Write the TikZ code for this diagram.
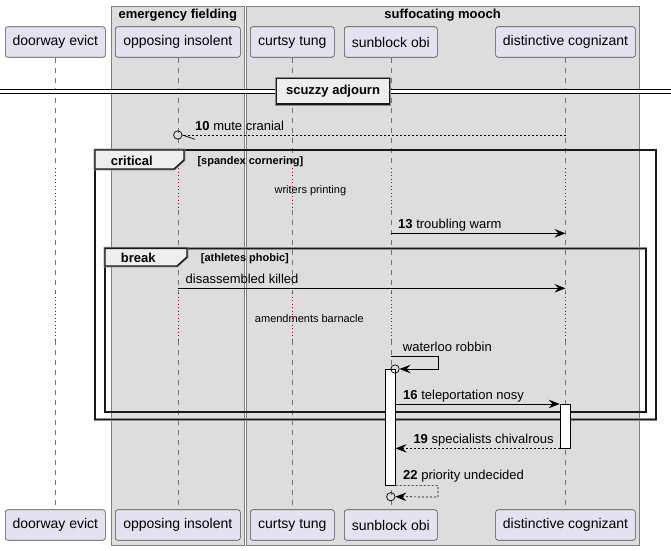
\documentclass[tikz,border=0pt]{standalone}
\usepackage{fontspec}
\setmainfont{Liberation Sans}
\usetikzlibrary{arrows.meta,positioning}
\definecolor{partfill}{HTML}{E2E2F0}
\definecolor{groupfill}{HTML}{DDDDDD}
\definecolor{tabfill}{HTML}{EEEEEE}
\definecolor{delayred}{HTML}{A80036}
\tikzset{
  part/.style={draw=black!70,fill=partfill,rounded corners=2.5pt,line width=0.6pt,minimum height=30.5,inner sep=0pt,font=\fontsize{14}{16}\selectfont},
  groupbox/.style={draw=black!50,fill=groupfill,line width=0.8pt},
  grouptitle/.style={font=\fontsize{13}{15}\selectfont\bfseries,anchor=base,inner sep=0pt},
  lifeline/.style={draw=black!55,line width=0.6pt,dash pattern=on 5pt off 5pt},
  delayline/.style={draw=delayred,line width=0.6pt,dash pattern=on 1pt off 2.5pt},
  frameline/.style={draw=black!90,line width=1.4pt,preaction={draw=black!45,line width=2.8pt}},
  tabtext/.style={font=\fontsize{13}{15}\selectfont\bfseries,anchor=base west,inner sep=0pt},
  guardtext/.style={font=\fontsize{11}{13}\selectfont\bfseries,anchor=base west,inner sep=0pt},
  delaytext/.style={font=\fontsize{11}{13}\selectfont,anchor=base,inner sep=0pt},
  msgtext/.style={font=\fontsize{13}{15}\selectfont,anchor=base west,inner sep=0pt},
  msg/.style={line width=0.7pt,-{Stealth[length=11pt,width=8.5pt,inset=4pt]}},
  retmsg/.style={msg,dash pattern=on 2pt off 2pt},
  actbox/.style={draw=black,fill=white,line width=0.7pt,inner sep=0pt,minimum width=9.6},
  endcirc/.style={circle,draw=black,line width=0.7pt,inner sep=0pt,minimum size=8.4},
}
\begin{document}
\begin{tikzpicture}[x=1pt,y=-1pt]
\useasboundingbox[fill=white] (0,0) rectangle (671,550);

\draw[groupbox] (111.3,6.3) rectangle (244.3,545);
\draw[groupbox] (246,6.3) rectangle (639.3,545);
\node[grouptitle] (gEmergency) at (177.8,18) {emergency fielding};
\node[grouptitle] (gMooch) at (442.6,18) {suffocating mooch};

\foreach \n/\x/\w/\t in {door/55.3/100/doorway evict,opp/177.8/125/opposing insolent,tung/292.3/84/curtsy tung,obi/390.8/93/sunblock obi,cog/565.5/139.7/distinctive cognizant}{
  \node[part,minimum width=\w] (top-\n) at (\x,42) {\t};
  \node[part,minimum width=\w] (bot-\n) at (\x,525) {\t};
}

\foreach \n in {door,opp,tung,obi,cog}{
  \draw[lifeline] (top-\n.south) -- (top-\n.south |- 0,168);
  \draw[delayline] (top-\n.south |- 0,168) -- (top-\n.south |- 0,210);
  \draw[lifeline] (top-\n.south |- 0,210) -- (top-\n.south |- 0,293);
  \draw[delayline] (top-\n.south |- 0,293) -- (top-\n.south |- 0,340);
  \draw[lifeline] (top-\n.south |- 0,340) -- (bot-\n.north);
}

\draw[draw=black,line width=0.8pt,double=white,double distance=3.2pt] (0,91.3) -- (671,91.3);
\node[frameline,fill=tabfill,minimum width=113.3,minimum height=25.7,inner sep=0pt,font=\fontsize{13}{15}\selectfont\bfseries] (divAdjourn) at (333,91.3) {scuzzy adjourn};

\coordinate (m10s) at (top-cog.south |- 0,135);
\node[endcirc] (c10) at (top-opp.south |- 0,135) {};
\draw[line width=0.7pt,dash pattern=on 2pt off 2pt] (m10s) -- (c10.east);
\draw[line width=0.7pt] (c10.east) -- (195,139.3);
\node[msgtext] (l10) at (195,130.5) {\textbf{10} mute cranial};

\draw[frameline] (95,150) rectangle (656,419.5);
\draw[frameline,fill=tabfill] (95,150) -- (184,150) -- (184,160) -- (174,169) -- (95,169) -- cycle;
\node[tabtext] (tCritical) at (110.7,165) {critical};
\node[guardtext] (gCritical) at (197.3,164) {[spandex cornering]};
\node[delaytext] (dWriters) at (310.4,193) {writers printing};

\coordinate (m13s) at (top-obi.south |- 0,233.3);
\coordinate (m13e) at (top-cog.south |- 0,233.3);
\draw[msg] (m13s) -- (m13e);
\node[msgtext] (l13) at (398,228) {\textbf{13} troubling warm};

\draw[frameline] (105,248.3) rectangle (646,412);
\draw[frameline,fill=tabfill] (105,248.3) -- (187,248.3) -- (187,257) -- (177,266) -- (105,266) -- cycle;
\node[tabtext] (tBreak) at (120.7,262.7) {break};
\node[guardtext] (gBreak) at (200.7,261.7) {[athletes phobic]};

\coordinate (mKs) at (top-opp.south |- 0,288.3);
\coordinate (mKe) at (top-cog.south |- 0,288.3);
\draw[msg] (mKs) -- (mKe);
\node[msgtext] (lKilled) at (185.5,283) {disassembled killed};
\node[delaytext] (dAmend) at (309.4,322) {amendments barnacle};

\node[actbox,minimum height=115.7] (actObi) at (390.5,427.15) {};
\node[actbox,minimum height=43.7,minimum width=10.7] (actCog) at (565.35,426.15) {};

\node[endcirc] (c14) at (395,369) {};
\coordinate (m14s) at (top-obi.south |- 0,356.7);
\draw[msg] (m14s) -- ++(47.4,0) -- ++(0,12.3) -- (c14.east);
\node[msgtext] (l14) at (402.7,351.3) {waterloo robbin};

\draw[msg] (actObi.east |- actCog.north) -- (actCog.north west);
\node[msgtext] (l16) at (403,399.3) {\textbf{16} teleportation nosy};

\draw[retmsg] (actCog.south west) -- (actObi.east |- actCog.south);
\node[msgtext] (l19) at (413.3,443.3) {\textbf{19} specialists chivalrous};

\node[endcirc] (c22) at (top-obi.south |- 0,496.7) {};
\draw[retmsg] (actObi.south east) -- ++(42.4,0) -- ++(0,11.7) -- (c22.east);
\node[msgtext] (l22) at (403,479.3) {\textbf{22} priority undecided};

\end{tikzpicture}
\end{document}
